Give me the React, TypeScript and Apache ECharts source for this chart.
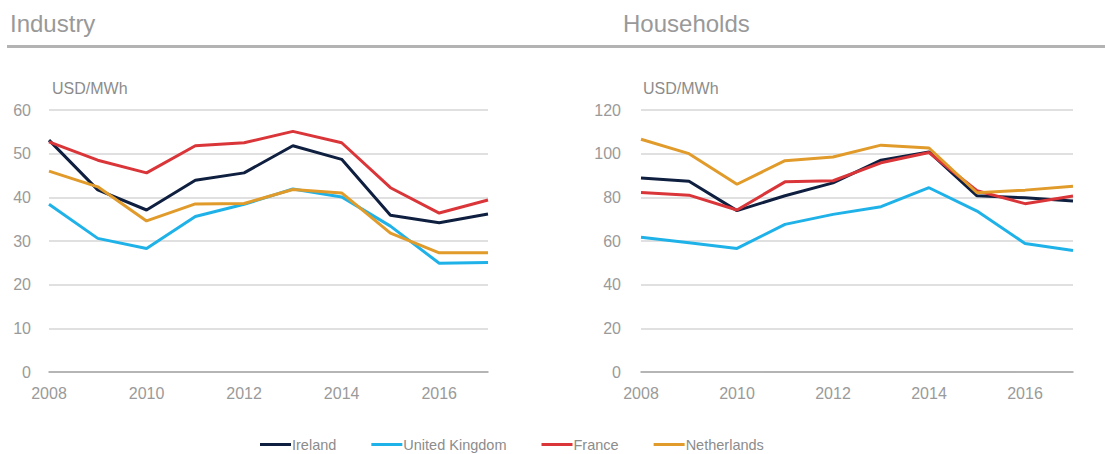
import React, { useEffect, useRef } from "react";
import * as echarts from "echarts";

const years = ["2008", "2009", "2010", "2011", "2012", "2013", "2014", "2015", "2016", "2017"];

const industryIreland = [53.1, 41.7, 37.1, 43.9, 45.6, 51.8, 48.7, 35.9, 34.2, 36.2];
const industryUK = [38.4, 30.6, 28.3, 35.6, 38.4, 41.9, 40.1, 33.4, 24.9, 25.1];
const industryFrance = [52.7, 48.5, 45.6, 51.8, 52.5, 55.1, 52.5, 42.2, 36.4, 39.4];
const industryNetherlands = [46.0, 42.4, 34.6, 38.5, 38.6, 41.8, 41.0, 31.8, 27.3, 27.3];

const householdsIreland = [88.9, 87.4, 73.9, 80.7, 86.6, 97.0, 100.8, 80.7, 79.8, 78.3];
const householdsUK = [61.7, 59.2, 56.6, 67.6, 72.2, 75.7, 84.4, 73.7, 58.9, 55.6];
const householdsFrance = [82.2, 81.0, 74.2, 87.1, 87.6, 95.8, 100.5, 83.0, 77.1, 80.6];
const householdsNetherlands = [106.6, 100.0, 86.0, 96.8, 98.5, 103.9, 102.6, 82.1, 83.3, 85.1];

const seriesNames = ["Ireland", "United Kingdom", "France", "Netherlands"];
const seriesColors = ["#0f1f40", "#1fb2e8", "#da3639", "#e19b2b"];

const panelTitles = ["Industry", "Households"];
const unitLabel = "USD/MWh";

const FONT = "Liberation Sans, Arial, sans-serif";

export default function App() {
  const ref = useRef<HTMLDivElement>(null);
  useEffect(() => {
    document.body.style.margin = "0";
    if (!ref.current) return;
    const chart = echarts.init(ref.current, undefined, { renderer: "svg" });
    const industry = [industryIreland, industryUK, industryFrance, industryNetherlands];
    const households = [householdsIreland, householdsUK, householdsFrance, householdsNetherlands];

    const xAxisCommon = {
      type: "category" as const,
      data: years,
      boundaryGap: false,
      axisLine: { lineStyle: { color: "#a6a6a6", width: 1.5 } },
      axisTick: { show: false },
      axisLabel: { interval: 1, color: "#9a9a9a", fontSize: 16, fontFamily: FONT, margin: 13 },
      splitLine: { show: false },
    };
    const yAxisCommon = {
      type: "value" as const,
      axisLine: { show: false },
      axisTick: { show: false },
      splitLine: { lineStyle: { color: "#d6d6d6", width: 1.5 } },
    };

    const mk = (data: number[], i: number, idx: number) => ({
      type: "line" as const,
      name: seriesNames[i],
      data,
      xAxisIndex: idx,
      yAxisIndex: idx,
      symbol: "none",
      lineStyle: { color: seriesColors[i], width: 3 },
      itemStyle: { color: seriesColors[i] },
    });

    chart.setOption({
      animation: false,
      backgroundColor: "#ffffff",
      grid: [
        { left: 49, right: 617, top: 110, bottom: 82 },
        { left: 641, right: 32, top: 110, bottom: 82 },
      ],
      xAxis: [
        { ...xAxisCommon, gridIndex: 0 },
        { ...xAxisCommon, gridIndex: 1 },
      ],
      yAxis: [
        {
          ...yAxisCommon,
          gridIndex: 0,
          min: 0,
          max: 60,
          interval: 10,
          axisLabel: { color: "#9a9a9a", fontSize: 16, fontFamily: FONT, margin: 18 },
        },
        {
          ...yAxisCommon,
          gridIndex: 1,
          min: 0,
          max: 120,
          interval: 20,
          axisLabel: { color: "#9a9a9a", fontSize: 16, fontFamily: FONT, margin: 20 },
        },
      ],
      legend: {
        data: seriesNames,
        left: 260,
        top: 437,
        padding: 0,
        itemWidth: 31,
        itemHeight: 3,
        itemGap: 35,
        icon: "rect",
        textStyle: { color: "#8c8c8c", fontSize: 14.5, fontFamily: FONT, padding: [0, 0, 0, -4] },
      },
      graphic: [
        {
          type: "text",
          left: 10,
          top: 11,
          style: { text: panelTitles[0], fill: "#999999", fontSize: 24, fontFamily: FONT },
        },
        {
          type: "text",
          left: 623,
          top: 11,
          style: { text: panelTitles[1], fill: "#999999", fontSize: 24, fontFamily: FONT },
        },
        {
          type: "line",
          shape: { x1: 7, y1: 46.5, x2: 1105, y2: 46.5 },
          style: { stroke: "#b3b3b3", lineWidth: 3 },
        },
        {
          type: "text",
          left: 52,
          top: 80,
          style: { text: unitLabel, fill: "#8c8c8c", fontSize: 16, fontFamily: FONT },
        },
        {
          type: "text",
          left: 643,
          top: 80,
          style: { text: unitLabel, fill: "#8c8c8c", fontSize: 16, fontFamily: FONT },
        },
      ],
      series: [
        ...industry.map((d, i) => mk(d, i, 0)),
        ...households.map((d, i) => mk(d, i, 1)),
      ],
    });
    return () => chart.dispose();
  }, []);
  return <div ref={ref} style={{ width: 1105, height: 454 }} />;
}
